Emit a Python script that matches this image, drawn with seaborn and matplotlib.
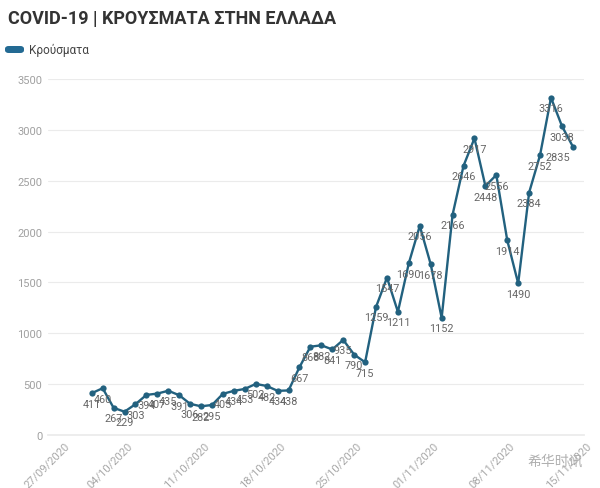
import matplotlib
matplotlib.use("Agg")
import matplotlib.pyplot as plt
import matplotlib.dates as mdates
import matplotlib.transforms as mtransforms
from matplotlib.patches import FancyBboxPatch
import seaborn as sns
import pandas as pd
import numpy as np

# ---- data ----
start_date = "2020-10-01"
cases = [411, 460, 267, 229, 303, 394, 407, 435, 391, 306,
         282, 295, 405, 434, 453, 502, 482, 434, 438, 667,
         868, 882, 841, 935, 790, 715, 1259, 1547, 1211, 1690,
         2056, 1678, 1152, 2166, 2646, 2917, 2448, 2556, 1914, 1490,
         2384, 2752, 3316, 3038, 2835]
tick_dates = ["2020-09-27", "2020-10-04", "2020-10-11", "2020-10-18",
              "2020-10-25", "2020-11-01", "2020-11-08", "2020-11-15"]
y_ticks = [0, 500, 1000, 1500, 2000, 2500, 3000, 3500]
title = "COVID-19 | ΚΡΟΥΣΜΑΤΑ ΣΤΗΝ ΕΛΛΑΔΑ"
series_name = "Κρούσματα"

dates = pd.date_range(start_date, periods=len(cases), freq="D")
df = pd.DataFrame({"date": dates, "cases": cases})

sns.set_theme(style="white")
plt.rcParams["font.family"] = ["Roboto", "DejaVu Sans"]

line_color = "#22617f"
fig = plt.figure(figsize=(6.0, 4.89), dpi=100)
ax = fig.add_axes([0.08, 0.1084, 0.893, 0.728])

sns.lineplot(data=df, x="date", y="cases", ax=ax, color=line_color,
             linewidth=1.7, marker="o", markersize=4.5,
             markeredgewidth=0, legend=False, clip_on=False)

n = len(cases)
for i, (d, v) in enumerate(zip(df["date"], df["cases"])):
    dx = -11 if i == n - 1 else 0
    ax.annotate(f"{v}", (d, v), xytext=(dx, -4), textcoords="offset points",
                ha="center", va="top", fontsize=7.8, color="#666666",
                annotation_clip=False)

ax.set_xlim(pd.Timestamp(tick_dates[0]), pd.Timestamp(tick_dates[-1]))
ax.set_ylim(0, 3500)
ax.set_xticks([pd.Timestamp(t) for t in tick_dates])
ax.xaxis.set_major_formatter(mdates.DateFormatter("%d/%m/%Y"))
ax.set_yticks(y_ticks)
ax.tick_params(axis="x", colors="#e0e0e0", labelsize=8, length=3, width=0.6,
               labelcolor="#a8a8a8", pad=0)
ax.tick_params(axis="y", length=0, labelsize=8, labelcolor="#a0a0a0", pad=4)
fig.canvas.draw()
for i, lab in enumerate(ax.get_xticklabels()):
    lab.set_rotation(45)
    lab.set_ha("right")
    lab.set_va("center")
    lab.set_rotation_mode("anchor")
    dx = 20 if i == 0 else 6
    off = mtransforms.ScaledTranslation(dx / 100, -4 / 100, fig.dpi_scale_trans)
    lab.set_transform(lab.get_transform() + off)
ax.set_xlabel("")
ax.set_ylabel("")
ax.grid(axis="y", color="#ebebeb", linewidth=0.8)
ax.grid(axis="x", visible=False)
for s in ["top", "right", "left"]:
    ax.spines[s].set_visible(False)
ax.spines["bottom"].set_color("#ebebeb")

fig.text(8 / 600, 1 - 19 / 489, title, fontsize=13, fontweight="bold",
         color="#333333", va="center", ha="left")
swatch = FancyBboxPatch((5 / 600, 1 - 54 / 489), 19 / 600, 7 / 489,
                        boxstyle="round,pad=0,rounding_size=0.006",
                        transform=fig.transFigure, facecolor="#236a93",
                        edgecolor="none")
fig.patches.append(swatch)
fig.text(29 / 600, 1 - 50 / 489, series_name, fontsize=8.5, color="#444444",
         va="center", ha="left")
fig.text(555 / 600, 1 - 462 / 489, "希华时讯", fontsize=10, color="#b0b0b0",
         va="center", ha="center", family=["Noto Sans CJK SC", "DejaVu Sans"])

fig.savefig("out.png", dpi=100, facecolor="white")
